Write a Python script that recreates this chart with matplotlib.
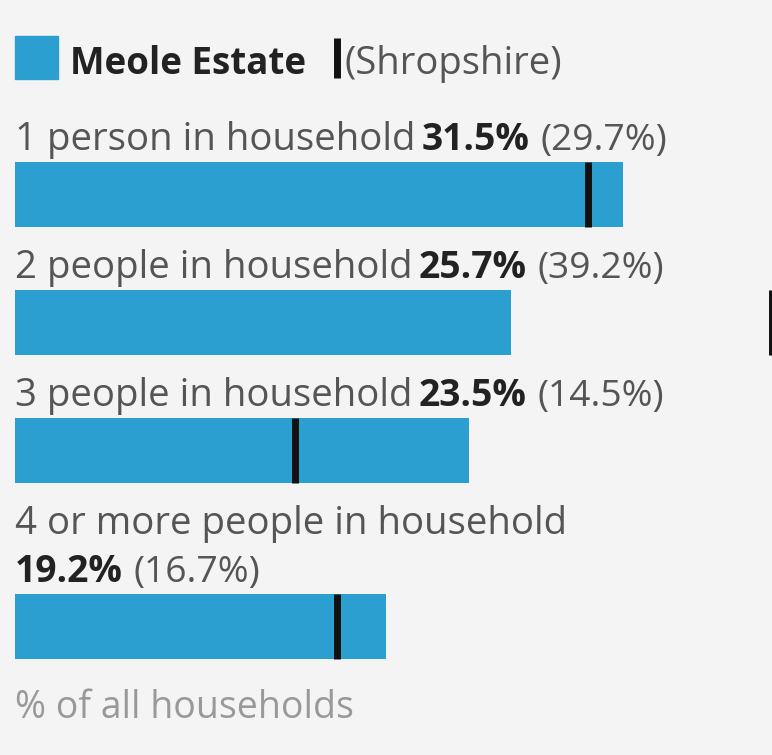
import matplotlib.pyplot as plt

plt.rcParams['font.family'] = ['Open Sans', 'DejaVu Sans']

categories = ['1 person in household', '2 people in household',
              '3 people in household', '4 or more people in household']
area_values = [31.5, 25.7, 23.5, 19.2]
county_values = [29.7, 39.2, 14.5, 16.7]
area_name = 'Meole Estate'
county_name = '(Shropshire)'
footer = '% of all households'

bar_color = '#2a9fd0'
bg = '#f4f4f4'
W, H = 772, 755
left_px = 15
px_per_pct = 19.3

fig = plt.figure(figsize=(W / 100, H / 100), dpi=100, facecolor=bg)
ax = fig.add_axes([0, 0, 1, 1])
ax.set_xlim(-left_px / px_per_pct, (W - left_px) / px_per_pct)
ax.set_ylim(H, 0)
ax.axis('off')

fs_label = 27.6
fs_val = 26.8
line_h = 48
bar_h = 65

# legend header
ax.add_patch(plt.Rectangle((0, 36), 43 / px_per_pct, 43, color=bar_color))
ax.text(55 / px_per_pct, 74, area_name, fontsize=26.5, fontweight='bold',
        color='#222222', va='baseline')
ax.vlines(321.5 / px_per_pct, 38, 78, color='#111111', lw=5)
ax.text(329 / px_per_pct, 74, county_name, fontsize=27.5, color='#555555',
        va='baseline')

y = 150
for cat, v, c in zip(categories, area_values, county_values):
    if cat.startswith('4'):
        ax.text(0, y, cat, fontsize=fs_label, color='#555555', va='baseline')
        y += line_h
        t = ax.text(0, y, f'{v}%', fontsize=fs_val, fontweight='bold',
                    color='#222222', va='baseline')
    else:
        t0 = ax.text(0, y, cat, fontsize=fs_label, color='#555555',
                     va='baseline')
        t = ax.annotate(f'{v}%', xy=(1, 0), xycoords=t0, xytext=(4.5, 0),
                        textcoords='offset points', fontsize=fs_val,
                        fontweight='bold', color='#222222', va='bottom')
    ax.annotate(f'({c}%)', xy=(1, 0), xycoords=t, xytext=(8, 0),
                textcoords='offset points', fontsize=fs_val, color='#555555',
                va='bottom')
    top = y + 12
    ax.barh(top + bar_h / 2, v, height=bar_h, left=0, color=bar_color)
    ax.vlines(c, top, top + bar_h, color='#111111', lw=5)
    y = top + bar_h + 51

ax.text(0, 718, footer, fontsize=27, color='#999999', va='baseline')

fig.savefig('out.png', dpi=100, facecolor=bg)
